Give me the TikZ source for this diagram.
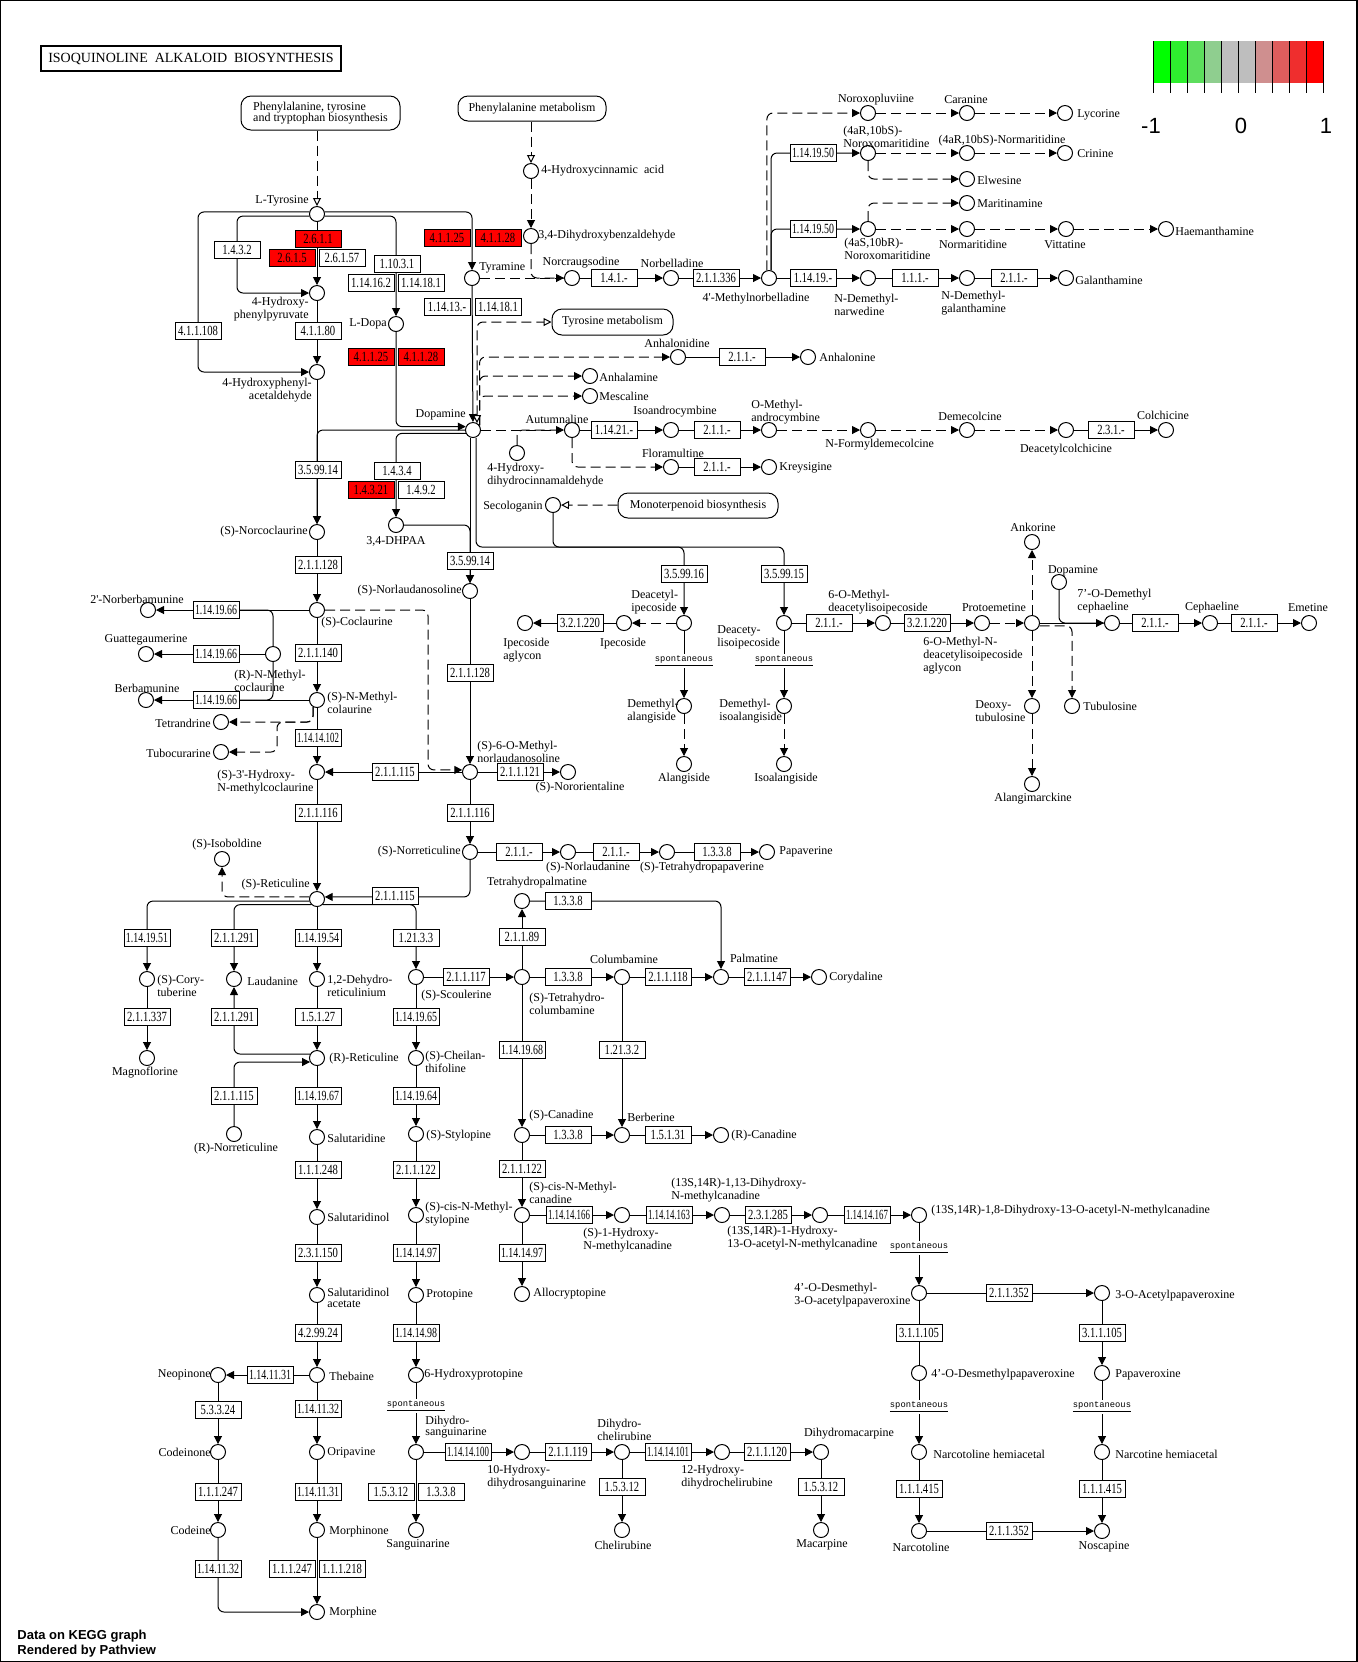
\documentclass[tikz,border=0pt]{standalone}
\usepackage{fontspec}
\usepackage{graphicx}
\setmainfont{Liberation Serif}[Ligatures=TeXOff]
\newfontfamily\ecfont[FakeStretch=0.76]{Liberation Serif}
\newfontfamily\spfont{Liberation Mono}
\newfontfamily\legfont{Liberation Sans}
\usetikzlibrary{arrows.meta}
\pgfdeclarelayer{edges}
\pgfsetlayers{edges,main}

\definecolor{lg0}{HTML}{00FF00}
\definecolor{lg1}{HTML}{2EEF2E}
\definecolor{lg2}{HTML}{5DDE5D}
\definecolor{lg3}{HTML}{8FCE8F}
\definecolor{lg4}{HTML}{BEBEBE}
\definecolor{lg5}{HTML}{BEBEBE}
\definecolor{lg6}{HTML}{CF8F8F}
\definecolor{lg7}{HTML}{DE5D5D}
\definecolor{lg8}{HTML}{EF2E2E}
\definecolor{lg9}{HTML}{FF0000}

% enzyme numbers are squeezed to fit their boxes
\newsavebox\ecbox
\newcommand\ecfit[1]{\sbox\ecbox{\ecfont\fontsize{7pt}{7pt}\selectfont #1}%
  \ifdim\wd\ecbox>21pt\relax\resizebox{21pt}{\height}{\usebox\ecbox}\else\usebox\ecbox\fi}

\newcommand\cpd[2]{\node[cpd] (#1) at (#2) {};}
\newcommand\enz[4][white]{\node[enz,fill=#1] (#2) at (#3) {\ecfit{#4}};}
\newcommand\labW[3]{\node[lbl,anchor=west,align=left] (l-#1) at (#2) {#3};}
\newcommand\labE[3]{\node[lbl,anchor=east,align=right] (l-#1) at (#2) {#3};}
\newcommand\labC[3]{\node[lbl,anchor=center,align=center] (l-#1) at (#2) {#3};}
\newcommand\spont[2]{\node[spont] (#1) at (#2) {\underline{spontaneous}};}

\tikzset{
  cpd/.style={circle,draw,fill=white,inner sep=0pt,minimum size=7.5pt,line width=0.5pt},
  enz/.style={rectangle,draw,inner sep=0pt,minimum width=23pt,minimum height=8.5pt,line width=0.5pt},
  lbl/.style={inner sep=0pt,font=\fontsize{6pt}{5.4pt}\selectfont},
  mapbox/.style={rectangle,rounded corners=5pt,draw,fill=white,inner sep=0pt,line width=0.5pt,align=left,font=\fontsize{6pt}{5.6pt}\selectfont},
  spont/.style={fill=white,inner sep=0.8pt,font=\spfont\fontsize{4.4pt}{5pt}\selectfont},
  conn/.style={line width=0.5pt,rounded corners=3pt},
  dconn/.style={conn,dash pattern=on 5pt off 2.5pt},
  >={Triangle[length=4pt,width=4pt]},
  hol/.style={-{Triangle[open,length=4pt,width=4pt,fill=white]}},
  hol2/.style={{Triangle[open,length=4pt,width=4pt,fill=white]}-{Triangle[open,length=4pt,width=4pt,fill=white]}},
}

\begin{document}
\begin{tikzpicture}[x=0.5pt,y=-0.5pt]
\useasboundingbox (0,0) rectangle (1357,1662);
\draw[line width=1.2pt] (0,0) rectangle (1357,1662);

% ---------- title and legend ----------
\node[draw,line width=1pt,minimum width=150pt,minimum height=12.5pt,inner sep=0pt,
  font=\fontsize{7pt}{7pt}\selectfont] (title) at (191,58.5) {ISOQUINOLINE\ \ ALKALOID\ \ BIOSYNTHESIS};

\foreach \c [count=\i from 0] in {lg0,lg1,lg2,lg3,lg4,lg5,lg6,lg7,lg8,lg9}
  \fill[\c] (1153.3+17*\i,41) rectangle ++(17,42);
\foreach \i in {0,...,10}
  \draw[line width=0.5pt] (1153.3+17*\i,41) -- ++(0,52);
\node[font=\legfont\fontsize{11pt}{11pt}\selectfont,inner sep=0pt] (leg-a) at (1151,126) {-1};
\node[font=\legfont\fontsize{11pt}{11pt}\selectfont,inner sep=0pt] (leg-b) at (1241,126) {0};
\node[font=\legfont\fontsize{11pt}{11pt}\selectfont,inner sep=0pt] (leg-c) at (1326,126) {1};

\node[anchor=west,inner sep=0pt,font=\legfont\bfseries\fontsize{6.5pt}{7pt}\selectfont] (foot1) at (17,1636) {Data on KEGG graph};
\node[anchor=west,inner sep=0pt,font=\legfont\bfseries\fontsize{6.5pt}{7pt}\selectfont] (foot2) at (17,1651) {Rendered by Pathview};

% ---------- linked maps ----------
\node[mapbox,minimum width=79.5pt,minimum height=17pt] (pttb) at (320.5,113) {Phenylalanine, tyrosine\\and tryptophan biosynthesis};
\node[mapbox,minimum width=74pt,minimum height=12.5pt] (phemet) at (532,108.5) {Phenylalanine metabolism};
\node[mapbox,minimum width=60.5pt,minimum height=13pt] (tyrmet) at (612.5,322) {Tyrosine metabolism};
\node[mapbox,minimum width=80pt,minimum height=12.5pt] (monot) at (698,505.5) {Monoterpenoid biosynthesis};

% ---------- compounds ----------
\cpd{tyr}{317,214} \cpd{hpp}{317,293} \cpd{hpaa}{317,372} \cpd{ldopa}{396,324}
\cpd{tyra}{472,278} \cpd{hca}{531,171} \cpd{dhba}{531,236} \cpd{norcr}{572,278}
\cpd{norbel}{671,278} \cpd{mnb}{769,278} \cpd{noroxp}{868,113} \cpd{nxm1}{868,153}
\cpd{nxm2}{868,229} \cpd{ndnar}{868,278} \cpd{caran}{967,113} \cpd{normar1}{967,153}
\cpd{elwes}{967,179} \cpd{marit}{967,203} \cpd{normar2}{967,229} \cpd{ndgal}{967,278}
\cpd{lycor}{1065,113} \cpd{crin}{1065,153} \cpd{vitt}{1066,229} \cpd{haem}{1166,229}
\cpd{galan}{1066,278}
\cpd{dopa}{473,430} \cpd{anhld}{678,357} \cpd{anhln}{808,357} \cpd{anhlm}{590,376}
\cpd{mesc}{590,396} \cpd{autum}{572,430} \cpd{hdca}{517,453} \cpd{isoand}{671,430}
\cpd{omand}{769,430} \cpd{nfdem}{868,430} \cpd{demec}{967,430} \cpd{deacol}{1066,430}
\cpd{colch}{1166,430} \cpd{floram}{671,467} \cpd{kreys}{769,467} \cpd{seco}{553,505}
\cpd{norco}{317,532} \cpd{dhpaa}{396,525} \cpd{norlau}{470,591} \cpd{cocl}{317,610}
\cpd{nbm}{148,610} \cpd{rnmc}{273,654} \cpd{guatt}{146,654} \cpd{snmc}{317,700}
\cpd{berb}{146,700} \cpd{tetr}{221,722} \cpd{tubo}{221,752} \cpd{hnmc}{317,772}
\cpd{omnl}{470,772} \cpd{noror}{568,772}
\cpd{dai}{684,623} \cpd{ipec}{624,623} \cpd{ipag}{525,623} \cpd{dmal}{684,706}
\cpd{alang}{684,764} \cpd{dais}{784,623} \cpd{omdai}{883,623} \cpd{dmisal}{784,706}
\cpd{isoal}{784,764} \cpd{protoem}{982,623} \cpd{cent}{1032,623} \cpd{ankor}{1032,542}
\cpd{dopa2}{1059,582} \cpd{odmc}{1112,623} \cpd{cepha}{1210,623} \cpd{emet}{1309,623}
\cpd{tubul}{1072,706} \cpd{deoxy}{1032,706} \cpd{alangm}{1032,784}
\cpd{norret}{470,852} \cpd{sret}{317,899} \cpd{isobol}{222,859} \cpd{norlaud}{568,852}
\cpd{thpap}{667,852} \cpd{papav}{767,852}
\cpd{coryt}{147,979} \cpd{magno}{147,1058} \cpd{laud}{234,979} \cpd{dehret}{317,979}
\cpd{rret}{317,1058} \cpd{rnorret}{234,1134} \cpd{salut}{317,1137} \cpd{salol}{317,1217}
\cpd{scoul}{416,977} \cpd{cheil}{416,1058} \cpd{stylo}{416,1134} \cpd{cnms}{416,1215}
\cpd{thpalm}{522,901} \cpd{thcol}{522,977} \cpd{columb}{622,977} \cpd{palm}{721,977}
\cpd{coryd}{819,977} \cpd{scan}{522,1135} \cpd{berber}{622,1135} \cpd{rcan}{721,1135}
\cpd{cnmc}{522,1215} \cpd{hnmcan}{622,1215} \cpd{dhnmc}{722,1215} \cpd{hanmc}{820,1215}
\cpd{dhanmc}{919,1215}
\cpd{salac}{317,1295} \cpd{theb}{317,1375} \cpd{neop}{218,1375} \cpd{codone}{218,1452}
\cpd{codeine}{218,1530} \cpd{oripa}{317,1452} \cpd{morphone}{317,1530} \cpd{morph}{317,1612}
\cpd{protop}{416,1295} \cpd{hprot}{416,1375} \cpd{dhsang}{416,1452} \cpd{sang}{416,1530}
\cpd{allocr}{522,1294} \cpd{hdhs}{522,1452} \cpd{dhchel}{622,1452} \cpd{chel}{622,1530}
\cpd{hdhc}{722,1452} \cpd{dhmac}{821,1452} \cpd{macar}{821,1530}
\cpd{dmapx}{919,1293} \cpd{apx}{1102,1293} \cpd{dmpx}{919,1373} \cpd{papx}{1102,1373}
\cpd{nolh}{919,1452} \cpd{nlh}{1102,1452} \cpd{narcol}{919,1531} \cpd{nosc}{1102,1531}

% ---------- enzymes ----------
\enz[red]{e1}{318,239}{2.6.1.1} \enz[red]{e2}{292,258}{2.6.1.5} \enz{e3}{342,258}{2.6.1.57}
\enz{e4}{237,250}{1.4.3.2} \enz{e5}{198,331}{4.1.1.108} \enz{e6}{318,331}{4.1.1.80}
\enz{e7}{397,264}{1.10.3.1} \enz{e8}{371,283}{1.14.16.2} \enz{e9}{421,283}{1.14.18.1}
\enz[red]{e10}{371,357}{4.1.1.25} \enz[red]{e11}{421,357}{4.1.1.28}
\enz[red]{e12}{447,238}{4.1.1.25} \enz[red]{e13}{498,238}{4.1.1.28}
\enz{e14}{447,307}{1.14.13.-} \enz{e15}{498,307}{1.14.18.1}
\enz{e16}{614,278}{1.4.1.-} \enz{e17}{716,278}{2.1.1.336}
\enz{e18}{813,153}{1.14.19.50} \enz{e19}{813,229}{1.14.19.50} \enz{e20}{813,278}{1.14.19.-}
\enz{e21}{915,278}{1.1.1.-} \enz{e22}{1014,278}{2.1.1.-} \enz{e23}{742,357}{2.1.1.-}
\enz{e24}{614,430}{1.14.21.-} \enz{e25}{717,430}{2.1.1.-} \enz{e26}{1111,430}{2.3.1.-}
\enz{e27}{717,467}{2.1.1.-}
\enz{e28}{318,470}{3.5.99.14} \enz{e29}{397,471}{1.4.3.4} \enz[red]{e30}{371,490}{1.4.3.21}
\enz{e31}{421,490}{1.4.9.2} \enz{e32}{470,561}{3.5.99.14}
\enz{e33}{684,574}{3.5.99.16} \enz{e34}{784,574}{3.5.99.15}
\enz{e35}{580,623}{3.2.1.220} \enz{e36}{829,623}{2.1.1.-} \enz{e37}{927,623}{3.2.1.220}
\enz{e38}{1155,623}{2.1.1.-} \enz{e39}{1254,623}{2.1.1.-}
\enz{e40}{318,565}{2.1.1.128} \enz{e41}{216,610}{1.14.19.66} \enz{e42}{216,654}{1.14.19.66}
\enz{e43}{318,653}{2.1.1.140} \enz{e44}{216,700}{1.14.19.66} \enz{e45}{318,738}{1.14.14.102}
\enz{e46}{395,772}{2.1.1.115} \enz{e47}{318,813}{2.1.1.116} \enz{e48}{470,673}{2.1.1.128}
\enz{e49}{520,772}{2.1.1.121} \enz{e50}{470,813}{2.1.1.116}
\enz{e51}{519,852}{2.1.1.-} \enz{e52}{616,852}{2.1.1.-} \enz{e53}{717,852}{1.3.3.8}
\enz{e54}{395,896}{2.1.1.115}
\enz{e55}{147,938}{1.14.19.51} \enz{e56}{234,938}{2.1.1.291} \enz{e57}{318,938}{1.14.19.54}
\enz{e58}{416,938}{1.21.3.3} \enz{e59}{147,1017}{2.1.1.337} \enz{e60}{234,1017}{2.1.1.291}
\enz{e61}{318,1017}{1.5.1.27} \enz{e62}{416,1017}{1.14.19.65} \enz{e63}{234,1096}{2.1.1.115}
\enz{e64}{318,1096}{1.14.19.67} \enz{e65}{416,1096}{1.14.19.64} \enz{e66}{318,1170}{1.1.1.248}
\enz{e67}{416,1170}{2.1.1.122}
\enz{e68}{568,901}{1.3.3.8} \enz{e69}{522,937}{2.1.1.89} \enz{e70}{466,977}{2.1.1.117}
\enz{e71}{568,977}{1.3.3.8} \enz{e72}{668,977}{2.1.1.118} \enz{e73}{767,977}{2.1.1.147}
\enz{e74}{522,1050}{1.14.19.68} \enz{e75}{622,1050}{1.21.3.2} \enz{e76}{568,1135}{1.3.3.8}
\enz{e77}{668,1135}{1.5.1.31} \enz{e78}{522,1169}{2.1.1.122}
\enz{e79}{569,1215}{1.14.14.166} \enz{e80}{669,1215}{1.14.14.163} \enz{e81}{768,1215}{2.3.1.285}
\enz{e82}{867,1215}{1.14.14.167}
\enz{e83}{318,1253}{2.3.1.150} \enz{e84}{416,1253}{1.14.14.97} \enz{e85}{522,1253}{1.14.14.97}
\enz{e86}{318,1333}{4.2.99.24} \enz{e87}{416,1333}{1.14.14.98} \enz{e88}{270,1375}{1.14.11.31}
\enz{e89}{218,1410}{5.3.3.24} \enz{e90}{318,1409}{1.14.11.32} \enz{e91}{218,1492}{1.1.1.247}
\enz{e92}{318,1492}{1.14.11.31} \enz{e93}{218,1569}{1.14.11.32} \enz{e94}{292,1569}{1.1.1.247}
\enz{e95}{342,1569}{1.1.1.218}
\enz{e96}{468,1452}{1.14.14.100} \enz{e97}{391,1492}{1.5.3.12} \enz{e98}{441,1492}{1.3.3.8}
\enz{e99}{568,1452}{2.1.1.119} \enz{e100}{622,1487}{1.5.3.12} \enz{e101}{668,1452}{1.14.14.101}
\enz{e102}{767,1452}{2.1.1.120} \enz{e103}{821,1487}{1.5.3.12}
\enz{e104}{1009,1293}{2.1.1.352} \enz{e105}{919,1333}{3.1.1.105} \enz{e106}{1102,1333}{3.1.1.105}
\enz{e107}{919,1489}{1.1.1.415} \enz{e108}{1102,1489}{1.1.1.415} \enz{e109}{1009,1531}{2.1.1.352}

\spont{sp1}{684,661} \spont{sp2}{784,661} \spont{sp3}{416,1406}
\spont{sp4}{919,1248} \spont{sp5}{919,1407} \spont{sp6}{1102,1407}

% ---------- compound names ----------
\labE{tyr}{309,201}{L-Tyrosine}
\labE{hpp}{309,309.5}{4-Hydroxy-\\phenylpyruvate}
\labE{hpaa}{312,390.5}{4-Hydroxyphenyl-\\acetaldehyde}
\labE{ldopa}{387,324}{L-Dopa}
\labW{tyra}{479,268}{Tyramine}
\labW{hca}{541,171}{4-Hydroxycinnamic\ \ acid}
\labW{dhba}{538,236}{3,4-Dihydroxybenzaldehyde}
\labC{norcr}{581,263}{Norcraugsodine}
\labC{norbel}{672,263}{Norbelladine}
\labC{mnb}{756,299}{4'-Methylnorbelladine}
\labC{noroxp}{876,100}{Noroxopluviine}
\labW{nxm1}{843,136.5}{(4aR,10bS)-\\Noroxomaritidine}
\labW{nxm2}{844,248.5}{(4aS,10bR)-\\Noroxomaritidine}
\labW{ndnar}{834,305}{N-Demethyl-\\narwedine}
\labC{caran}{966,100}{Caranine}
\labW{lycor}{1077,115}{Lycorine}
\labC{normar1}{1002,141}{(4aR,10bS)-Normaritidine}
\labW{crin}{1077,154}{Crinine}
\labW{elwes}{977,180}{Elwesine}
\labW{marit}{977,204}{Maritinamine}
\labC{normar2}{973,244}{Normaritidine}
\labC{vitt}{1065,245}{Vittatine}
\labW{haem}{1175,231}{Haemanthamine}
\labW{ndgal}{941,303.5}{N-Demethyl-\\galanthamine}
\labW{galan}{1075,280}{Galanthamine}
\labC{anhld}{677,343}{Anhalonidine}
\labW{anhln}{819,357}{Anhalonine}
\labW{anhlm}{599,377}{Anhalamine}
\labW{mesc}{599,396}{Mescaline}
\labE{dopa}{466,415}{Dopamine}
\labC{autum}{557,419}{Autumnaline}
\labW{hdca}{487,475.5}{4-Hydroxy-\\dihydrocinnamaldehyde}
\labC{isoand}{675,412}{Isoandrocymbine}
\labW{omand}{751,412.5}{O-Methyl-\\androcymbine}
\labW{nfdem}{825,445}{N-Formyldemecolcine}
\labC{demec}{970,416}{Demecolcine}
\labC{deacol}{1066,450}{Deacetylcolchicine}
\labC{colch}{1163,415}{Colchicine}
\labC{floram}{673,453}{Floramultine}
\labW{kreys}{779,468}{Kreysigine}
\labE{seco}{543,507}{Secologanin}
\labE{norco}{308,532}{(S)-Norcoclaurine}
\labC{dhpaa}{396,541}{3,4-DHPAA}
\labE{norlau}{462,591}{(S)-Norlaudanosoline}
\labC{nbm}{137,599}{2'-Norberbamunine}
\labW{cocl}{321,623}{(S)-Coclaurine}
\labC{guatt}{146,640}{Guattegaumerine}
\labW{rnmc}{234,680.5}{(R)-N-Methyl-\\coclaurine}
\labW{snmc}{327,702.5}{(S)-N-Methyl-\\colaurine}
\labC{berb}{147,688}{Berbamunine}
\labE{tetr}{211,723}{Tetrandrine}
\labE{tubo}{211,753}{Tubocurarine}
\labW{hnmc}{217,782.5}{(S)-3'-Hydroxy-\\N-methylcoclaurine}
\labW{omnl}{477,752}{(S)-6-O-Methyl-\\norlaudanosoline}
\labC{noror}{580,788}{(S)-Nororientaline}
\labW{dai}{631,602}{Deacetyl-\\ipecoside}
\labC{ipec}{623,644}{Ipecoside}
\labW{ipag}{503,650.5}{Ipecoside\\aglycon}
\labW{dmal}{627,711.5}{Demethyl-\\alangiside}
\labC{alang}{684,779}{Alangiside}
\labW{dais}{717,637}{Deacety-\\lisoipecoside}
\labW{omdai}{828,602}{6-O-Methyl-\\deacetylisoipecoside}
\labW{dmisal}{719,711.5}{Demethyl-\\isoalangiside}
\labC{isoal}{786,779}{Isoalangiside}
\labC{protoem}{994,608}{Protoemetine}
\labW{omagl}{923,656}{6-O-Methyl-N-\\deacetylisoipecoside\\aglycon}
\labC{ankor}{1033,527}{Ankorine}
\labC{dopa2}{1073,571}{Dopamine}
\labW{odmc}{1077,601.5}{7’-O-Demethyl\\cephaeline}
\labC{cepha}{1212,608}{Cephaeline}
\labC{emet}{1308,608}{Emetine}
\labW{tubul}{1083,706}{Tubulosine}
\labW{deoxy}{975,711.5}{Deoxy-\\tubulosine}
\labC{alangm}{1033,799}{Alangimarckine}
\labC{isobol}{227,845}{(S)-Isoboldine}
\labE{sret}{310,885}{(S)-Reticuline}
\labE{norret}{461,852}{(S)-Norreticuline}
\labC{norlaud}{588,868}{(S)-Norlaudanine}
\labC{thpap}{702,868}{(S)-Tetrahydropapaverine}
\labW{papav}{779,852}{Papaverine}
\labC{thpalm}{537,883}{Tetrahydropalmatine}
\labW{coryt}{157,985.5}{(S)-Cory-\\tuberine}
\labW{laud}{247,981}{Laudanine}
\labW{dehret}{327,986}{1,2-Dehydro-\\reticulinium}
\labW{scoul}{421,996}{(S)-Scoulerine}
\labW{rret}{329,1059}{(R)-Reticuline}
\labW{cheil}{425,1062}{(S)-Cheilan-\\thifoline}
\labC{magno}{145,1073}{Magnoflorine}
\labC{rnorret}{236,1149}{(R)-Norreticuline}
\labW{salut}{327,1138}{Salutaridine}
\labW{stylo}{426,1136}{(S)-Stylopine}
\labW{salol}{327,1217}{Salutaridinol}
\labW{cnms}{425,1214.5}{(S)-cis-N-Methyl-\\stylopine}
\labW{thcol}{529,1003.5}{(S)-Tetrahydro-\\columbamine}
\labC{columb}{624,959}{Columbamine}
\labC{palm}{754,958}{Palmatine}
\labW{coryd}{829,978}{Corydaline}
\labW{scan}{529,1116}{(S)-Canadine}
\labW{berber}{627,1117}{Berberine}
\labW{rcan}{731,1136}{(R)-Canadine}
\labW{cnmc}{529,1193}{(S)-cis-N-Methyl-\\canadine}
\labW{hnmcan}{583,1240.5}{(S)-1-Hydroxy-\\N-methylcanadine}
\labW{dhnmc}{671,1190.5}{(13S,14R)-1,13-Dihydroxy-\\N-methylcanadine}
\labW{hanmc}{727,1238.5}{(13S,14R)-1-Hydroxy-\\13-O-acetyl-N-methylcanadine}
\labW{dhanmc}{931,1211}{(13S,14R)-1,8-Dihydroxy-13-O-acetyl-N-methylcanadine}
\labW{allocr}{533,1294}{Allocryptopine}
\labW{protop}{426,1295}{Protopine}
\labW{salac}{327,1297.5}{Salutaridinol\\acetate}
\labW{theb}{329,1376}{Thebaine}
\labE{neop}{211,1375}{Neopinone}
\labW{hprot}{424,1375}{6-Hydroxyprotopine}
\labW{dhsang}{425,1427.5}{Dihydro-\\sanguinarine}
\labE{codone}{211,1452}{Codeinone}
\labW{oripa}{327,1453}{Oripavine}
\labW{hdhs}{487,1477}{10-Hydroxy-\\dihydrosanguinarine}
\labW{dhchel}{597,1430}{Dihydro-\\chelirubine}
\labW{hdhc}{681,1477}{12-Hydroxy-\\dihydrochelirubine}
\labC{dhmac}{849,1434}{Dihydromacarpine}
\labE{codeine}{211,1530}{Codeine}
\labW{morphone}{329,1532}{Morphinone}
\labC{sang}{418,1545}{Sanguinarine}
\labC{chel}{623,1545}{Chelirubine}
\labC{macar}{822,1545}{Macarpine}
\labW{morph}{329,1613}{Morphine}
\labW{dmapx}{794,1295}{4’-O-Desmethyl-\\3-O-acetylpapaveroxine}
\labW{apx}{1115,1296}{3-O-Acetylpapaveroxine}
\labW{dmpx}{931,1375}{4’-O-Desmethylpapaveroxine}
\labW{papx}{1115,1375}{Papaveroxine}
\labW{nolh}{933,1454}{Narcotoline hemiacetal}
\labW{nlh}{1115,1454}{Narcotine hemiacetal}
\labC{narcol}{921,1547}{Narcotoline}
\labC{nosc}{1104,1547}{Noscapine}

% ---------- connectors ----------
\coordinate (jsec) at (553,547);
\coordinate (jtub) at (277,722);
\coordinate (jcm) at (428,700);

\begin{pgfonlayer}{edges}
% entry points
\draw[dconn,hol] (pttb.south -| tyr) -- (tyr);
\draw[dconn,hol] (phemet.south -| hca) -- (hca);
\draw[dconn,->] (hca) -- (dhba);
\draw[dconn] (dhba) |- (norcr);
\draw[dconn,->] (tyra) -- (norcr);
% tyrosine to dopamine
\draw[conn,->] (tyr) -- (hpp);
\draw[conn,->] (tyr.195) -| (e4) |- (hpp);
\draw[conn,->] (tyr.165) -| (e5) |- (hpaa);
\draw[conn,->] (hpp) -- (hpaa);
\draw[conn,->] (tyr.-15) -| (ldopa);
\draw[conn,->] (tyr.15) -| (tyra);
\draw[conn,->] (tyra) -- (dopa);
\draw[conn,->] (ldopa) |- (dopa.155);
\draw[conn,->] (hpaa) -- (norco);
\draw[conn,->] (dopa) -| (norco);
\draw[conn,->] (dopa.205) -| (dhpaa);
\draw[conn,->] (dhpaa) -| (norlau);
\draw[conn,->] ([xshift=-1.5pt]dopa.south) -- (norlau);
\draw[conn,->] ([xshift=1.5pt]dopa.south) |- (jsec) -| (dai);
\draw[conn,->] (seco) -- (jsec) -| (dais);
\draw[dconn,hol] (monot) -- (seco);
\draw[dconn,hol2] (dopa.60) |- (tyrmet);
\draw[dconn,->] (dopa.35) |- (anhld);
\draw[dconn,->] (dopa.35) |- (anhlm);
\draw[dconn,->] (dopa.35) |- (mesc);
\draw[conn,->] (anhld) -- (anhln);
% colchicine branch
\draw[dconn,->] (dopa) -- (autum);
\draw[dconn] (hdca) |- (autum);
\draw[conn,->] (autum) -- (isoand);
\draw[conn,->] (isoand) -- (omand);
\draw[dconn,->] (omand) -- (nfdem);
\draw[dconn,->] (nfdem) -- (demec);
\draw[dconn,->] (demec) -- (deacol);
\draw[conn,->] (deacol) -- (colch);
\draw[dconn,->] (autum) |- (floram);
\draw[conn,->] (floram) -- (kreys);
% Amaryllidaceae alkaloids
\draw[conn,->] (norcr) -- (norbel);
\draw[conn,->] (norbel) -- (mnb);
\draw[conn,->] (mnb) -- (ndnar);
\draw[conn,->] (ndnar) -- (ndgal);
\draw[conn,->] (ndgal) -- (galan);
\draw[conn,->] (mnb.75) |- (nxm1);
\draw[conn,->] (mnb.75) |- (nxm2);
\draw[dconn,->] (mnb.105) |- (noroxp);
\draw[dconn,->] (noroxp) -- (caran);
\draw[dconn,->] (caran) -- (lycor);
\draw[dconn,->] (nxm1) -- (normar1);
\draw[dconn,->] (normar1) -- (crin);
\draw[dconn,->] (nxm1) |- (elwes);
\draw[dconn,->] (nxm2) |- (marit);
\draw[dconn,->] (nxm2) -- (normar2);
\draw[dconn,->] (normar2) -- (vitt);
\draw[dconn,->] (vitt) -- (haem);
% ipecac and emetine
\draw[dconn,->] (dai) -- (ipec);
\draw[conn,->] (ipec) -- (ipag);
\draw[conn,->] (dai) -- (dmal);
\draw[dconn,->] (dmal) -- (alang);
\draw[conn,->] (dais) -- (omdai);
\draw[conn,->] (dais) -- (dmisal);
\draw[dconn,->] (dmisal) -- (isoal);
\draw[conn,->] (omdai) -- (protoem);
\draw[dconn,->] (protoem) -- (cent);
\draw[dconn,->] (cent) -- (ankor);
\draw[dconn,->] (cent) -- (deoxy);
\draw[dconn,->] (deoxy) -- (alangm);
\draw[dconn,->] (cent.-20) -| (tubul);
\draw[conn,->] (cent) -- (odmc);
\draw[conn] (dopa2) |- (odmc);
\draw[conn,->] (odmc) -- (cepha);
\draw[conn,->] (cepha) -- (emet);
% benzylisoquinolines
\draw[conn,->] (norco) -- (cocl);
\draw[conn,->] (cocl) -- (nbm);
\draw[conn] (rnmc) |- (e41);
\draw[conn] (rnmc) |- (e44);
\draw[conn,->] (rnmc) -- (guatt);
\draw[conn,->] (cocl) -- (snmc);
\draw[conn,->] (snmc) -- (berb);
\draw[dconn,->] (snmc.-120) |- (tetr);
\draw[dconn,->] (snmc.-120) |- (jtub) |- (tubo);
\draw[conn,->] (snmc) -- (hnmc);
\draw[conn,->] (omnl) -- (hnmc);
\draw[dconn,->] (cocl) -| (jcm) |- (omnl.165);
\draw[conn,->] (norlau) -- (omnl);
\draw[conn,->] (omnl) -- (noror);
\draw[conn,->] (hnmc) -- (sret);
\draw[conn,->] (omnl) -- (norret);
\draw[conn,->] (norret) |- (sret.15);
\draw[conn,->] (norret) -- (norlaud);
\draw[conn,->] (norlaud) -- (thpap);
\draw[conn,->] (thpap) -- (papav);
% reticuline branches
\draw[dconn,->] (sret.165) -| (isobol);
\draw[conn,->] (sret.195) -| (coryt);
\draw[conn,->] (sret.225) -| (laud);
\draw[conn,->] (sret.-45) -| (scoul);
\draw[conn,->] (sret) -- (dehret);
\draw[conn,->] (coryt) -- (magno);
\draw[conn,->] (rret.150) -| (laud);
\draw[conn,->] (dehret) -- (rret);
\draw[conn,->] (rnorret) |- (rret.210);
% morphine
\draw[conn,->] (rret) -- (salut);
\draw[conn,->] (salut) -- (salol);
\draw[conn,->] (salol) -- (salac);
\draw[conn,->] (salac) -- (theb);
\draw[conn,->] (theb) -- (neop);
\draw[conn,->] (neop) -- (codone);
\draw[conn,->] (codone) -- (codeine);
\draw[conn,->] (codeine) |- (morph);
\draw[conn,->] (theb) -- (oripa);
\draw[conn,->] (oripa) -- (morphone);
\draw[conn,->] (morphone) -- (morph);
% protoberberines and benzophenanthridines
\draw[conn,->] (scoul) -- (cheil);
\draw[conn,->] (cheil) -- (stylo);
\draw[conn,->] (stylo) -- (cnms);
\draw[conn,->] (cnms) -- (protop);
\draw[conn,->] (protop) -- (hprot);
\draw[conn,->] (hprot) -- (dhsang);
\draw[conn,->] (dhsang) -- (sang);
\draw[conn,->] (dhsang) -- (hdhs);
\draw[conn,->] (hdhs) -- (dhchel);
\draw[conn,->] (dhchel) -- (chel);
\draw[conn,->] (dhchel) -- (hdhc);
\draw[conn,->] (hdhc) -- (dhmac);
\draw[conn,->] (dhmac) -- (macar);
\draw[conn,->] (scoul) -- (thcol);
\draw[conn,->] (thcol) -- (thpalm);
\draw[conn,->] (thpalm) -| (palm);
\draw[conn,->] (thcol) -- (columb);
\draw[conn,->] (columb) -- (palm);
\draw[conn,->] (palm) -- (coryd);
\draw[conn,->] (thcol) -- (scan);
\draw[conn,->] (columb) -- (berber);
\draw[conn,->] (scan) -- (berber);
\draw[conn,->] (berber) -- (rcan);
\draw[conn,->] (scan) -- (cnmc);
\draw[conn,->] (cnmc) -- (allocr);
\draw[conn,->] (cnmc) -- (hnmcan);
\draw[conn,->] (hnmcan) -- (dhnmc);
\draw[conn,->] (dhnmc) -- (hanmc);
\draw[conn,->] (hanmc) -- (dhanmc);
% noscapine
\draw[conn,->] (dhanmc) -- (dmapx);
\draw[conn,->] (dmapx) -- (apx);
\draw[conn] (dmapx) -- (dmpx);
\draw[conn,->] (apx) -- (papx);
\draw[conn,->] (dmpx) -- (nolh);
\draw[conn,->] (papx) -- (nlh);
\draw[conn,->] (nolh) -- (narcol);
\draw[conn,->] (nlh) -- (nosc);
\draw[conn,->] (narcol) -- (nosc);
\end{pgfonlayer}
\end{tikzpicture}
\end{document}
